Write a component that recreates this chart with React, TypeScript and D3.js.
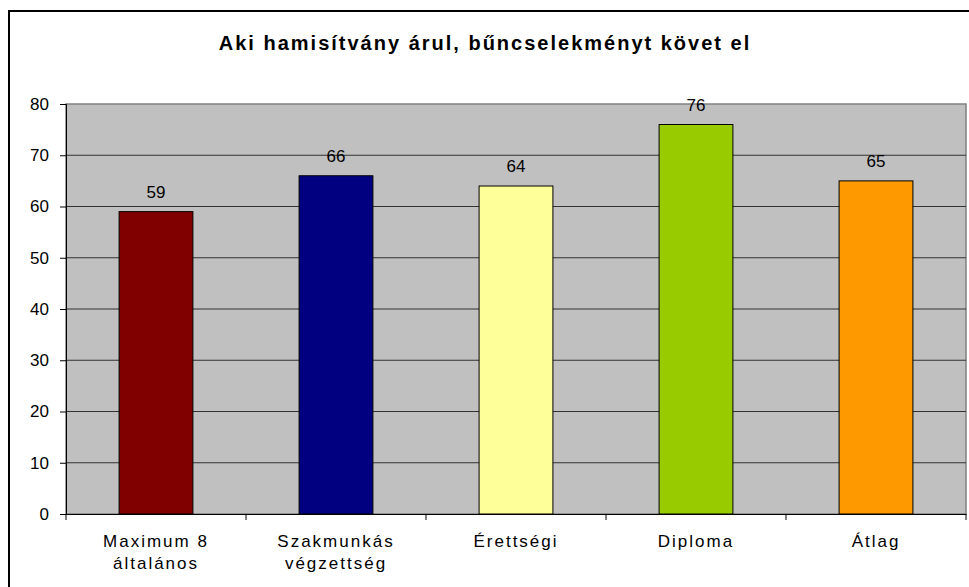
import { useRef, useEffect } from "react";
import * as d3 from "d3";

const categories = ["Maximum 8\náltalános", "Szakmunkás\nvégzettség", "Érettségi", "Diploma", "Átlag"];
const values = [59, 66, 64, 76, 65];
const barColors = ["#800000", "#000080", "#FFFF99", "#99CC00", "#FF9900"];
const yTicks = [0, 10, 20, 30, 40, 50, 60, 70, 80];
const title = "Aki hamisítvány árul, bűncselekményt követ el";

const width = 969;
const height = 587;
const margin = { top: 104, right: 3, bottom: 73, left: 66 };
const FONT = "Arial, 'Liberation Sans', sans-serif";

export default function App() {
  const ref = useRef<SVGSVGElement | null>(null);

  useEffect(() => {
    const svg = d3.select(ref.current);
    svg.selectAll("*").remove();

    const x0 = margin.left;
    const x1 = width - margin.right;
    const y0 = height - margin.bottom;
    const y1 = margin.top;

    // outer frame (only top and left visible)
    svg.append("rect")
      .attr("x", 9).attr("y", 11)
      .attr("width", width + 20).attr("height", height + 20)
      .attr("fill", "white").attr("stroke", "black").attr("stroke-width", 2);

    svg.append("text")
      .attr("x", 485).attr("y", 50)
      .attr("text-anchor", "middle")
      .attr("font-family", FONT).attr("font-size", 20).attr("font-weight", "bold")
      .attr("letter-spacing", 2)
      .text(title);

    const x = d3.scaleBand().domain(categories).range([x0, x1]).paddingInner(0.59).paddingOuter(0.295);
    const xCat = d3.scaleBand().domain(categories).range([x0, x1]);
    const y = d3.scaleLinear().domain([0, 80]).range([y0, y1]);

    svg.append("rect")
      .attr("x", x0).attr("y", y1)
      .attr("width", x1 - x0).attr("height", y0 - y1)
      .attr("fill", "#C0C0C0").attr("stroke", "#808080").attr("stroke-width", 1.5);

    svg.append("g").selectAll("line")
      .data(yTicks.filter((t) => t > 0 && t < 80))
      .join("line")
      .attr("x1", x0).attr("x2", x1)
      .attr("y1", (d) => y(d)).attr("y2", (d) => y(d))
      .attr("stroke", "#333").attr("stroke-width", 1);

    svg.append("g").selectAll("rect")
      .data(values)
      .join("rect")
      .attr("x", (_, i) => x(categories[i])!)
      .attr("y", (d) => y(d))
      .attr("width", x.bandwidth())
      .attr("height", (d) => y0 - y(d))
      .attr("fill", (_, i) => barColors[i])
      .attr("stroke", "black").attr("stroke-width", 1);

    svg.append("g").selectAll("text")
      .data(values)
      .join("text")
      .attr("x", (_, i) => x(categories[i])! + x.bandwidth() / 2)
      .attr("y", (d) => y(d) - 14)
      .attr("text-anchor", "middle")
      .attr("font-family", FONT).attr("font-size", 17)
      .text((d) => d);

    const yAxis = svg.append("g")
      .attr("transform", `translate(${x0},0)`)
      .call(d3.axisLeft(y).tickValues(yTicks).tickSize(6).tickPadding(11));
    yAxis.select(".domain").attr("stroke", "black");
    yAxis.selectAll("text").attr("font-family", FONT).attr("font-size", 17).attr("fill", "black");

    const xAxis = svg.append("g")
      .attr("transform", `translate(0,${y0})`)
      .call(d3.axisBottom(xCat).tickSize(0).tickFormat(() => ""));
    xAxis.select(".domain").attr("stroke", "black");

    svg.append("g").selectAll("line")
      .data(d3.range(categories.length + 1))
      .join("line")
      .attr("x1", (i) => x0 + i * xCat.step()).attr("x2", (i) => x0 + i * xCat.step())
      .attr("y1", y0).attr("y2", y0 + 6)
      .attr("stroke", "black");

    const labels = svg.append("g").selectAll("text")
      .data(categories)
      .join("text")
      .attr("x", (d) => xCat(d)! + xCat.bandwidth() / 2)
      .attr("y", y0 + 33)
      .attr("text-anchor", "middle")
      .attr("font-family", FONT).attr("font-size", 17)
      .attr("letter-spacing", 2);
    labels.each(function (d) {
      const t = d3.select(this);
      const cx = xCat(d)! + xCat.bandwidth() / 2;
      d.split("\n").forEach((line, i) => {
        t.append("tspan").attr("x", cx).attr("dy", i === 0 ? 0 : 22).text(line);
      });
    });
  }, []);

  return (
    <svg
      ref={ref}
      width={width}
      height={height}
      style={{ position: "absolute", left: 0, top: 0, display: "block" }}
    />
  );
}
